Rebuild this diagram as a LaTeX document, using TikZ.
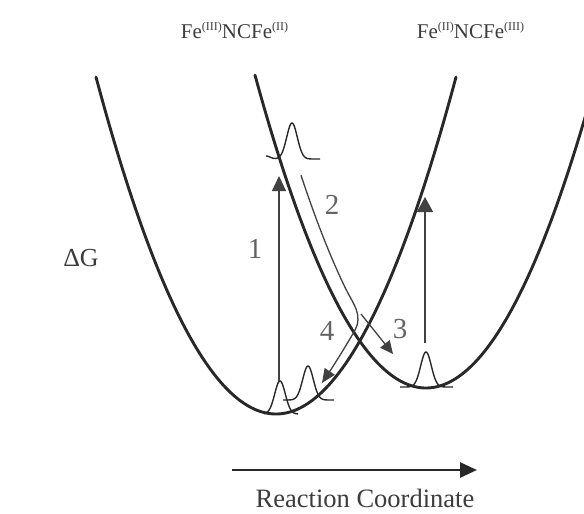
\documentclass[tikz,border=0pt]{standalone}
\usepackage{fontspec}
\setmainfont{Liberation Serif}
\usetikzlibrary{arrows.meta}
\definecolor{curvecol}{RGB}{40,40,40}
\definecolor{arrowcol}{RGB}{65,65,65}
\definecolor{textcol}{RGB}{60,60,60}
\definecolor{digitcol}{RGB}{100,100,100}
\newcommand\mysup[1]{\raisebox{0.38em}{\fontsize{12}{12}\selectfont #1}}
\begin{document}
\begin{tikzpicture}[x=1pt,y=-1pt,
  well/.style={line width=2.9pt, draw=curvecol, line cap=round},
  bell/.style={line width=1.4pt, draw=curvecol},
  transit/.style={line width=1.3pt, draw=arrowcol, -{Triangle[length=15pt,width=14pt]}},
  lbl/.style={text=textcol, inner sep=0pt},
  digit/.style={text=digitcol, inner sep=0pt, font=\fontsize{29}{32}\selectfont}]
\useasboundingbox (0,0) rectangle (584,514);
\begin{scope}
\clip (0,0) rectangle (584,514);
% potential wells
\draw[well] plot[domain=96:456, samples=140] (\x,{414-1.04*((\x-276)/10)^2});
\draw[well] plot[domain=255:595, samples=140] (\x,{388-1.07*((\x-426)/10)^2});
\end{scope}
% wave packets
\draw[bell] plot[domain=266:320, samples=80] (\x,{159-36*exp(-((\x-292)/7.5)^2)-3*exp(-((\x-266)/6)^2)});
\draw[bell] plot[domain=264:298, samples=80] (\x,{414-33*exp(-((\x-280)/7.5)^2)});
\draw[bell] plot[domain=283:334, samples=80] (\x,{400-34*exp(-((\x-308)/7.5)^2)});
\draw[bell] plot[domain=400:453, samples=80] (\x,{387-35*exp(-((\x-426)/7.5)^2)});
% coordinates for transitions
\coordinate (a1s) at (279,381);
\coordinate (a1e) at (279,176);
\coordinate (a5s) at (425,343);
\coordinate (a5e) at (425,197);
\coordinate (a3s) at (361,314);
\coordinate (a3e) at (393,354);
\coordinate (a4e) at (322,383);
\coordinate (rc1) at (232,470);
\coordinate (rc2) at (477,470);
% transitions
\draw[transit] (a1s) -- (a1e);
\draw[transit, -{Triangle[length=15pt,width=16pt]}] (a5s) -- (a5e);
\draw[transit, -{Triangle[length=14pt,width=12pt]}]
  plot[domain=301:345, samples=30] (\x,{388-1.07*((\x-442)/10)^2})
  .. controls (353,304) and (364,315) .. (354,332)
  .. controls (344,349) and (334,365) .. (a4e);
\draw[transit, -{Triangle[length=13pt,width=12pt]}] (a3s) -- (a3e);
\draw[line width=2.8pt, draw=curvecol, -{Triangle[length=17pt,width=15pt]}] (rc1) -- (rc2);
% labels
\node[lbl, anchor=base] (lA) at (234.5,38) {\fontsize{21}{24}\selectfont Fe\mysup{(III)}NCFe\mysup{(II)}};
\node[lbl, anchor=base] (lB) at (470.5,38) {\fontsize{21}{24}\selectfont Fe\mysup{(II)}NCFe\mysup{(III)}};
\node[lbl, anchor=base] (dG) at (81,266) {\fontsize{26}{30}\selectfont ΔG};
\node[lbl, anchor=base] (rc) at (365,507) {\fontsize{26.5}{30}\selectfont Reaction Coordinate};
\node[digit] (n1) at (255,249) {1};
\node[digit] (n2) at (332,205) {2};
\node[digit] (n3) at (400,329) {3};
\node[digit] (n4) at (327,331) {4};
\end{tikzpicture}
\end{document}
